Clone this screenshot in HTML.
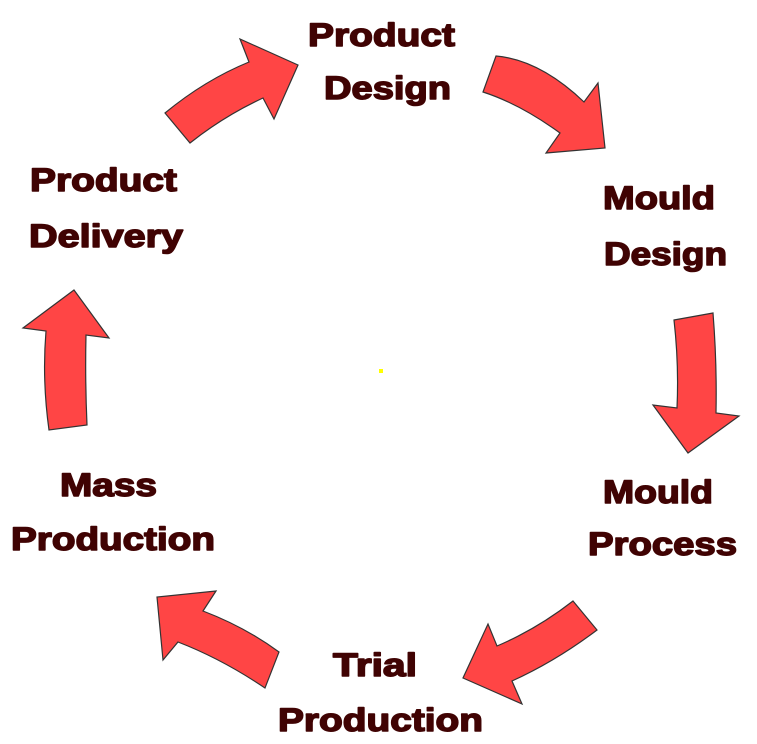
<!DOCTYPE html>
<html>
<head>
<meta charset="utf-8">
<style>
  html, body { margin: 0; padding: 0; background: #ffffff; }
  svg { display: block; }
  text {
    font-family: "Liberation Sans", Arial, sans-serif;
    font-weight: bold;
    font-size: 32px;
    fill: #400303;
    stroke: #400303;
    stroke-width: 1.5px;
    stroke-linejoin: round;
  }
  .arrow { fill: #ff4545; stroke: #333333; stroke-width: 1.2; stroke-linejoin: miter; }
</style>
</head>
<body>
<svg width="757" height="744" viewBox="0 0 757 744" xmlns="http://www.w3.org/2000/svg">
  <!-- Arrows -->
  <path class="arrow" d="M165,113 Q205,80 249,62 L240,39 L298,65 L274,119 L263,98 Q224,116 190,143 Z"/>
  <path class="arrow" d="M496,56 Q540,60 584,102 L598,83 L605,148 L546,153 L560,133 Q520,104 483,92 Z"/>
  <path class="arrow" d="M674,320 L713,313 Q717,363 716,413 L739,416 L688,453 L653,405 L677,408 Q679,364 674,320 Z"/>
  <path class="arrow" d="M573,601 L597,630 Q556,661 512,681 L522,704 L463,678 L488,624 L497,646 Q537,629 573,601 Z"/>
  <path class="arrow" d="M216,591 L203,611 Q245,627 279,652 L265,688 Q222,659 178,642 L163,660 L157,597 Z"/>
  <path class="arrow" d="M74,290 L109,338 L86,335 Q85,380 87,425 L49,430 Q42,380 46,331 L23,328 Z"/>

  <!-- small yellow dot -->
  <rect x="379" y="369" width="4" height="4" fill="#ffff00"/>

  <!-- Labels -->
  <text x="308" y="46" textLength="147" lengthAdjust="spacingAndGlyphs">Product</text>
  <text x="324" y="99" textLength="127" lengthAdjust="spacingAndGlyphs">Design</text>

  <text x="603" y="209" textLength="112" lengthAdjust="spacingAndGlyphs">Mould</text>
  <text x="604" y="265" textLength="123" lengthAdjust="spacingAndGlyphs">Design</text>

  <text x="603" y="503" textLength="110" lengthAdjust="spacingAndGlyphs">Mould</text>
  <text x="588" y="555" textLength="149" lengthAdjust="spacingAndGlyphs">Process</text>

  <text x="333" y="676" textLength="84" lengthAdjust="spacingAndGlyphs">Trial</text>
  <text x="278" y="731" textLength="205" lengthAdjust="spacingAndGlyphs">Production</text>

  <text x="60" y="496" textLength="97" lengthAdjust="spacingAndGlyphs">Mass</text>
  <text x="11" y="550" textLength="204" lengthAdjust="spacingAndGlyphs">Production</text>

  <text x="30" y="191" textLength="147" lengthAdjust="spacingAndGlyphs">Product</text>
  <text x="29" y="247" textLength="154" lengthAdjust="spacingAndGlyphs">Delivery</text>
</svg>
</body>
</html>
